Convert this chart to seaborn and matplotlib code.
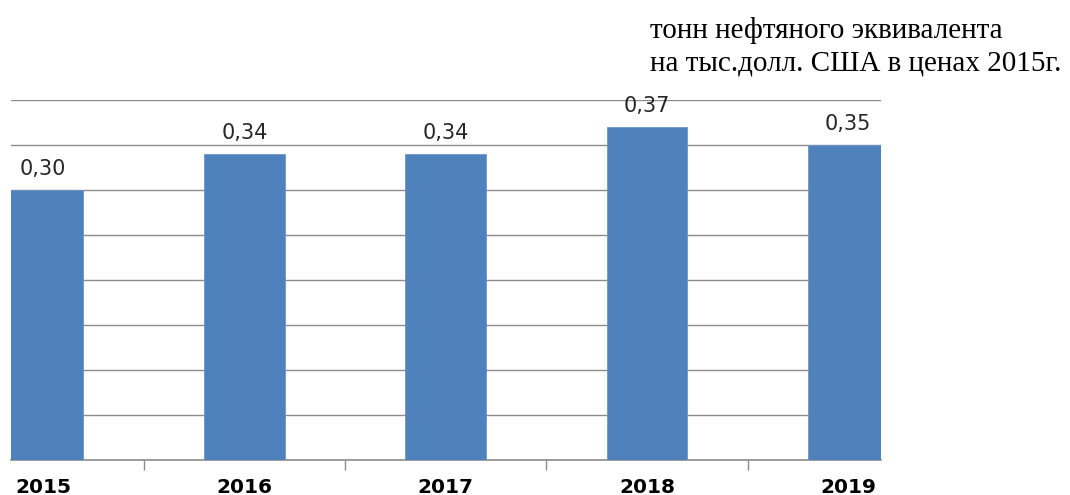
import matplotlib
matplotlib.use("Agg")
import matplotlib.pyplot as plt
import seaborn as sns
import pandas as pd

years = ["2015", "2016", "2017", "2018", "2019"]
values = [0.30, 0.34, 0.34, 0.37, 0.35]
value_labels = ["0,30", "0,34", "0,34", "0,37", "0,35"]
unit_line1 = "тонн нефтяного эквивалента"
unit_line2 = "на тыс.долл. США в ценах 2015г."

sns.set_theme(style="white")
plt.rcParams["font.family"] = ["DejaVu Sans"]

df = pd.DataFrame({"year": years, "value": values})

fig = plt.figure(figsize=(10.7, 4.95), dpi=100)
ax = fig.add_axes([11 / 1070, 35 / 495, 870 / 1070, 360 / 495])

sns.barplot(data=df, x="year", y="value", order=years, color="#4F81BD",
            width=0.4, saturation=1, ax=ax, edgecolor="#6E95C8", linewidth=0.6,
            zorder=3)

ax.set_ylim(0, 0.40)
ax.set_xlim(-0.16, 4.163)
ax.set_yticks([0.05 * i for i in range(9)])
ax.yaxis.grid(True, color="#8C8C8C", linewidth=1.0, zorder=0)
ax.set_axisbelow(True)
ax.tick_params(axis="y", left=False, labelleft=False)

for side in ["left", "right", "top"]:
    ax.spines[side].set_visible(False)
ax.spines["bottom"].set_color("#8C8C8C")
ax.spines["bottom"].set_linewidth(1.2)

ax.set_xticks(range(len(years)))
ax.set_xticklabels(years, fontsize=14.5, fontweight="bold", color="black")
ax.tick_params(axis="x", which="major", length=0, pad=13)
ax.set_xticks([i + 0.5 for i in range(len(years) - 1)], minor=True)
ax.tick_params(axis="x", which="minor", length=7, width=1, color="#8C8C8C",
               direction="out", bottom=True)
ax.set_xlabel("")
ax.set_ylabel("")

ax.bar_label(ax.containers[0], labels=value_labels, padding=8, fontsize=15,
             color="#262626")

fig.text(650 / 1070, 1 - 38 / 495, unit_line1, fontsize=21,
         family="Liberation Serif", ha="left", va="baseline", color="black")
fig.text(650 / 1070, 1 - 70 / 495, unit_line2, fontsize=21,
         family="Liberation Serif", ha="left", va="baseline", color="black")

fig.savefig("out.png", dpi=100)
